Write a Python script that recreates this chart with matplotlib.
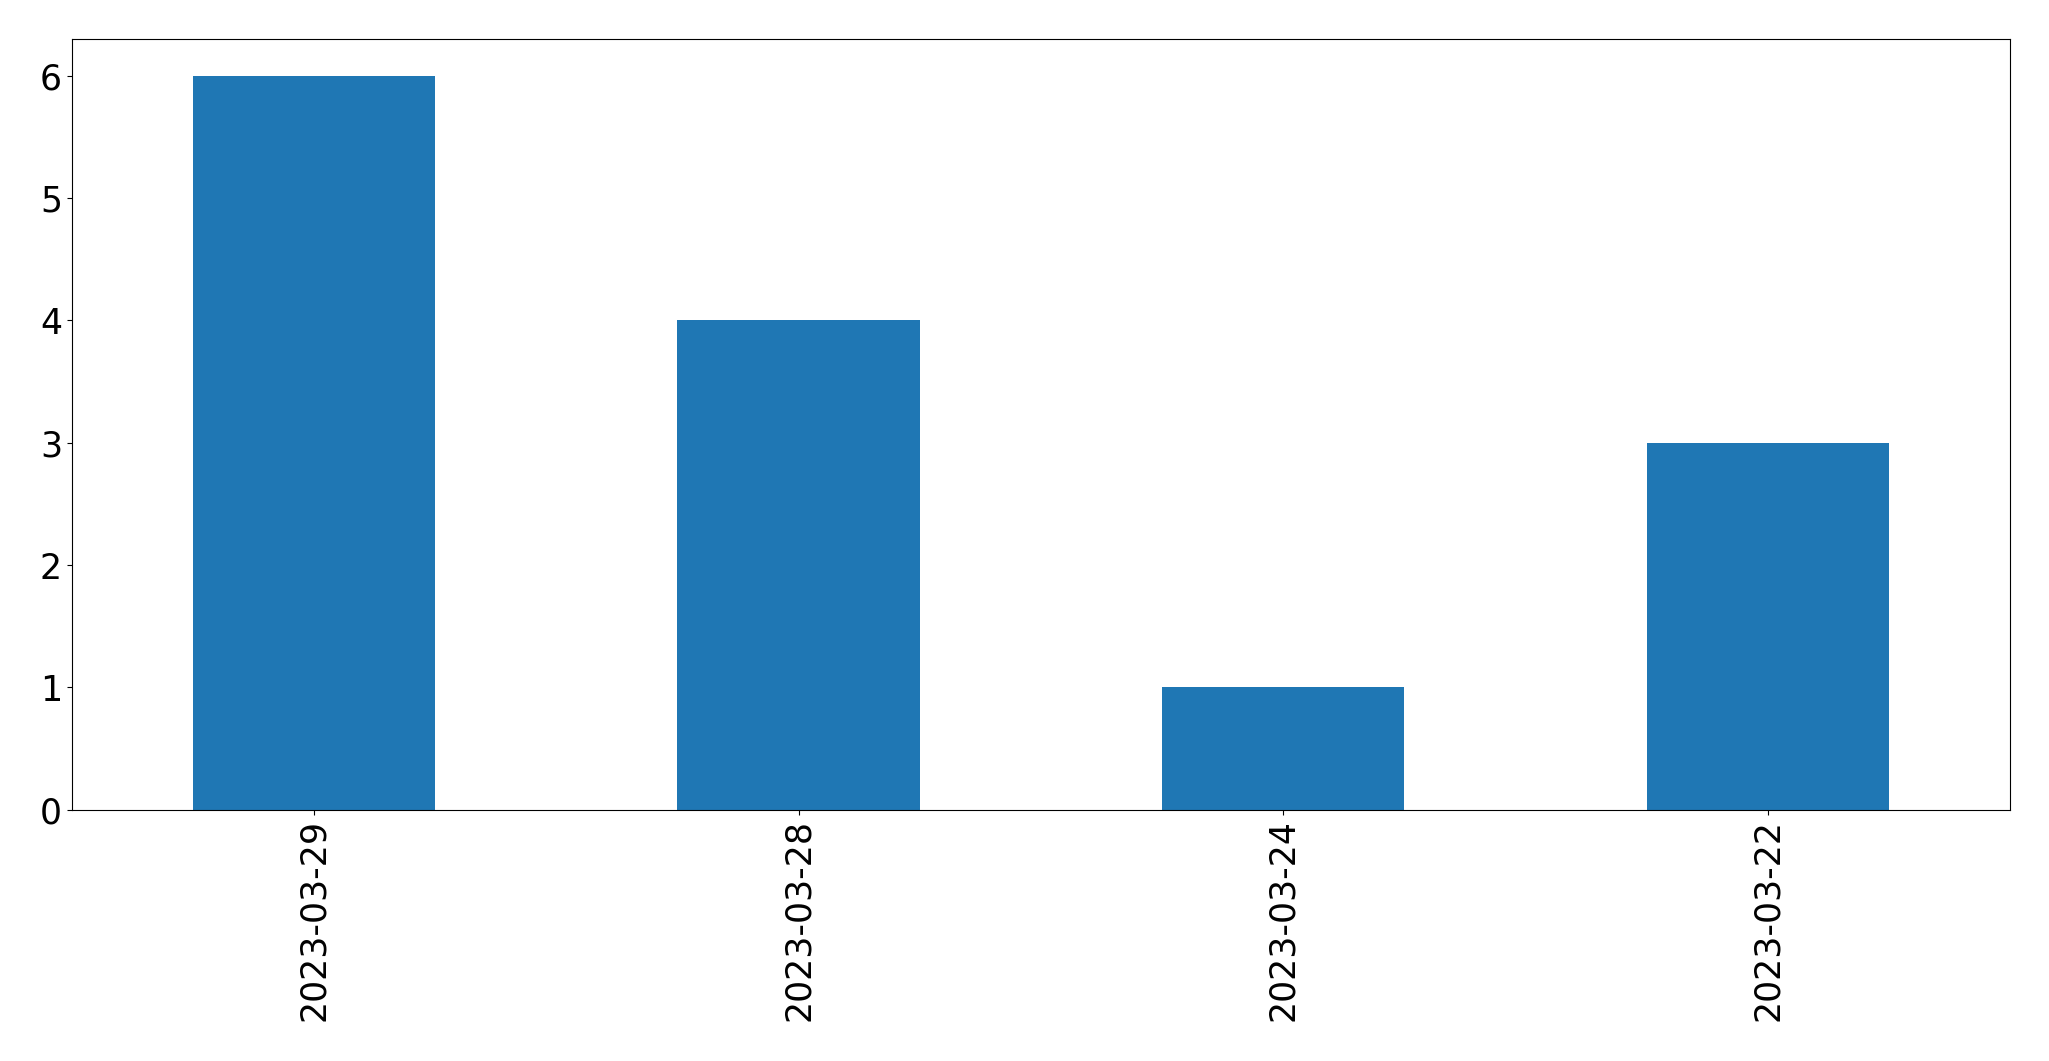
import matplotlib
matplotlib.use("Agg")
import matplotlib.pyplot as plt
import pandas as pd

# dados
datas = ["2023-03-29", "2023-03-28", "2023-03-24", "2023-03-22"]
contagens = [6, 4, 1, 3]

serie = pd.Series(contagens, index=datas)

fig, ax = plt.subplots(figsize=(20.49, 10.61), dpi=100)
serie.plot(kind="bar", ax=ax, color="#1f77b4", fontsize=25)
ax.tick_params(axis="x", labelrotation=90)
fig.subplots_adjust(left=0.035, right=0.981, top=0.963, bottom=0.237)
fig.savefig("out.png")
